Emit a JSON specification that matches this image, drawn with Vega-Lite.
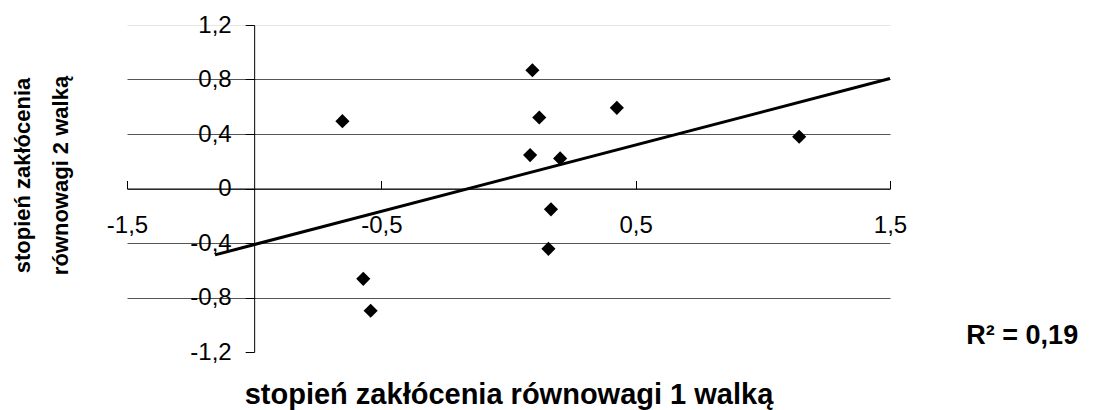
{
  "$schema": "https://vega.github.io/schema/vega-lite/v6.json",
  "width": 763,
  "height": 327,
  "autosize": {"type": "none"},
  "padding": {"left": 127, "top": 25, "right": 205, "bottom": 58},
  "background": "white",
  "config": {
    "locale": {"number": {"decimal": ",", "thousands": " ", "grouping": [3], "currency": ["", " zł"], "minus": "-"}},
    "view": {"stroke": null},
    "font": "Liberation Sans",
    "axis": {"labelFont": "Liberation Sans", "titleFont": "Liberation Sans", "labelColor": "#000", "titleColor": "#000", "domainColor": "#000", "tickColor": "#000", "domainWidth": 1, "tickWidth": 1}
  },
  "datasets": {
    "points": [
      {"x": -0.653, "y": 0.494},
      {"x": -0.571, "y": -0.663},
      {"x": -0.542, "y": -0.897},
      {"x": 0.094, "y": 0.868},
      {"x": 0.121, "y": 0.521},
      {"x": 0.085, "y": 0.245},
      {"x": 0.203, "y": 0.221},
      {"x": 0.426, "y": 0.592},
      {"x": 0.167, "y": -0.153},
      {"x": 0.157, "y": -0.443},
      {"x": 1.143, "y": 0.38}
    ],
    "trend": [
      {"x": -1.154, "y": -0.487},
      {"x": 1.5, "y": 0.807}
    ]
  },
  "layer": [
    {
      "data": {"name": "trend"},
      "mark": {"type": "line", "color": "#000", "strokeWidth": 3},
      "encoding": {
        "x": {
          "field": "x", "type": "quantitative",
          "scale": {"domain": [-1.5, 1.5], "nice": false, "zero": false},
          "axis": {
            "title": "stopień zakłócenia równowagi 1 walką",
            "values": [-1.5, -0.5, 0.5, 1.5],
            "format": ".1f",
            "offset": -163.5,
            "grid": false,
            "tickSize": -8,
            "labelPadding": 33,
            "labelFontSize": 24,
            "labelFlush": false,
            "labelOverlap": false,
            "labelBound": false,
            "titleFontSize": 29,
            "titleFontWeight": "bold",
            "titleY": 215,
            "titleBaseline": "alphabetic"
          }
        },
        "y": {
          "field": "y", "type": "quantitative",
          "scale": {"domain": [-1.2, 1.2], "nice": false, "zero": false},
          "axis": {
            "title": ["stopień zakłócenia", "równowagi 2 walką"],
            "values": [-1.2, -0.8, -0.4, 0, 0.4, 0.8, 1.2],
            "format": ".1f",
            "labelExpr": "datum.value == 0 ? '0' : datum.label",
            "offset": -127.17,
            "tickSize": 9,
            "labelPadding": 14,
            "labelFontSize": 24,
            "labelOverlap": false,
            "labelFlush": false,
            "grid": true,
            "gridColor": {"condition": {"test": "datum.value > 1", "value": "#e6e6e6"}, "value": "#555555"},
            "gridOpacity": {"condition": {"test": "datum.value < -1", "value": 0}, "value": 1},
            "titleFontSize": 22,
            "titleFontWeight": "bold",
            "titleX": -220,
            "titleY": 150,
            "titleLineHeight": 38
          }
        }
      }
    },
    {
      "data": {"name": "points"},
      "mark": {"type": "point", "shape": "diamond", "filled": true, "color": "#000", "size": 200, "opacity": 1},
      "encoding": {
        "x": {"field": "x", "type": "quantitative"},
        "y": {"field": "y", "type": "quantitative"}
      }
    },
    {
      "data": {"values": [{"label": "R² = 0,19"}]},
      "mark": {"type": "text", "fontWeight": "bold", "fontSize": 27, "align": "center", "baseline": "middle", "color": "#000"},
      "encoding": {
        "x": {"datum": 2.02, "type": "quantitative"},
        "y": {"datum": -1.08, "type": "quantitative"},
        "text": {"field": "label"}
      }
    }
  ]
}
